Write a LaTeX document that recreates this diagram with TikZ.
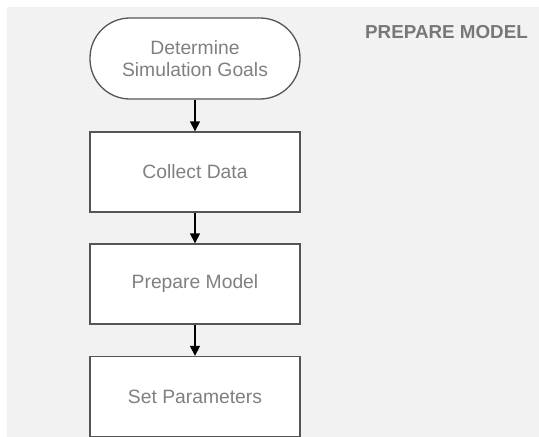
\documentclass[tikz,border=0pt]{standalone}
\usepackage{fontspec}
\setmainfont{Liberation Sans}
\usepackage{xcolor}
\usetikzlibrary{arrows.meta, positioning}
\definecolor{bgcolor}{RGB}{242,242,242}
\definecolor{edgecolor}{RGB}{85,85,85}
\definecolor{textcolor}{RGB}{128,128,128}
\definecolor{titlecolor}{RGB}{120,120,120}

\begin{document}
\begin{tikzpicture}[
    x=1pt, y=-1pt,
    terminal/.style={draw=edgecolor, line width=1.3pt, fill=white, rounded corners=40pt, minimum width=210pt, minimum height=81pt, font=\fontsize{19.3}{22}\selectfont, text=textcolor, align=center},
    process/.style={draw=edgecolor, line width=1.3pt, fill=white, minimum width=210pt, minimum height=80pt, font=\fontsize{19.3}{22}\selectfont, text=textcolor, align=center},
    arrow/.style={-{Triangle[length=10pt, width=10pt]}, line width=1.3pt, black}
]
    \useasboundingbox (0,0) rectangle (539,437);
    \fill[bgcolor] (7,7) rectangle (539,437);

    % Flow steps
    \node[terminal] (goals) at (195,58.5) {Determine\\Simulation Goals};
    \node[process] (collect) at (195,172) {Collect Data};
    \node[process] (prepare) at (195,284) {Prepare Model};
    \node[process] (params) at (195,396.5) {Set Parameters};

    % Connections
    \draw[arrow] (goals) -- (collect);
    \draw[arrow] (collect) -- (prepare);
    \draw[arrow] (prepare) -- (params);

    % Label
    \node[anchor=west, inner sep=0pt, font=\fontsize{18.8}{20}\selectfont\bfseries, text=titlecolor] (title) at (365,32) {PREPARE MODEL};
\end{tikzpicture}
\end{document}
